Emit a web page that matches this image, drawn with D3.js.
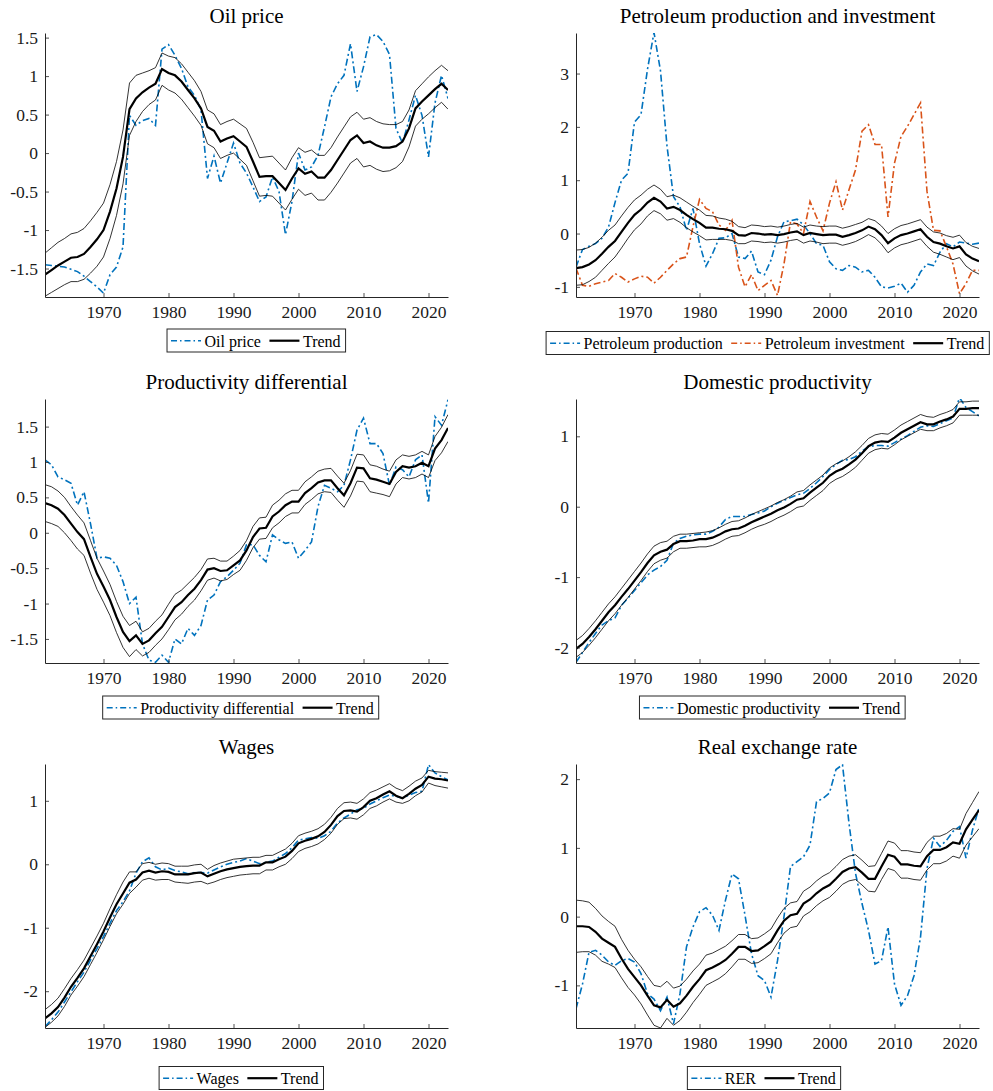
<!DOCTYPE html>
<html lang="en">
<head>
  <meta charset="UTF-8">
  <title>Trends</title>
  <style>
    body { margin: 0; background: #fff; }
    svg { display: block; font-family: "Liberation Serif", "Times New Roman", serif; }
  </style>
</head>
<body>
  <svg id="chart" width="993" height="1091"></svg>

  <script src="https://d3js.org/d3.v7.min.js"></script>
  <script>
    const years = d3.range(1961, 2024);
    const xTicks = [1970, 1980, 1990, 2000, 2010, 2020];

    // --- Oil price ---
    const oilPrice = [
      -1.45,-1.46,-1.47,-1.48,-1.51,-1.54,-1.60,-1.67,-1.74,-1.82,
      -1.58,-1.48,-1.22,0.49,0.36,0.42,0.45,0.36,1.35,1.41,
      1.27,1.10,0.86,0.75,0.56,-0.33,-0.04,-0.39,-0.13,0.13,
      -0.13,-0.26,-0.44,-0.63,-0.57,-0.31,-0.50,-1.06,-0.63,0.00,
      -0.22,-0.18,-0.03,0.34,0.73,0.90,1.01,1.42,0.80,1.12,
      1.51,1.54,1.45,1.28,0.32,0.13,0.43,0.75,0.49,-0.05,
      0.65,1.01,0.71];
    const oilTrend = [
      -1.58,-1.52,-1.46,-1.41,-1.36,-1.35,-1.31,-1.22,-1.12,-1.00,
      -0.76,-0.46,-0.05,0.57,0.71,0.79,0.85,0.90,1.09,1.04,
      1.01,0.93,0.82,0.71,0.58,0.34,0.29,0.15,0.19,0.22,
      0.15,0.08,-0.11,-0.31,-0.30,-0.30,-0.39,-0.48,-0.33,-0.20,
      -0.27,-0.24,-0.32,-0.32,-0.22,-0.09,0.04,0.17,0.23,0.13,
      0.15,0.10,0.07,0.07,0.09,0.15,0.32,0.58,0.67,0.75,
      0.83,0.90,0.82];
    const oilUpper = [
      -1.30,-1.23,-1.16,-1.11,-1.05,-1.03,-0.98,-0.88,-0.77,-0.65,
      -0.41,-0.11,0.30,0.91,1.01,1.04,1.07,1.11,1.30,1.26,
      1.24,1.16,1.05,0.94,0.80,0.56,0.51,0.37,0.41,0.44,
      0.38,0.32,0.14,-0.06,-0.05,-0.04,-0.13,-0.22,-0.06,0.07,
      0.01,0.04,-0.03,-0.03,0.07,0.21,0.34,0.47,0.53,0.44,
      0.46,0.41,0.38,0.37,0.37,0.41,0.56,0.81,0.90,0.99,
      1.07,1.14,1.07];
    const oilLower = [
      -1.86,-1.81,-1.76,-1.71,-1.67,-1.67,-1.64,-1.56,-1.47,-1.35,
      -1.11,-0.81,-0.40,0.23,0.41,0.54,0.63,0.69,0.88,0.82,
      0.78,0.70,0.59,0.48,0.36,0.12,0.07,-0.07,-0.03,0.00,
      -0.08,-0.16,-0.36,-0.56,-0.55,-0.56,-0.65,-0.74,-0.60,-0.47,
      -0.55,-0.52,-0.61,-0.61,-0.51,-0.39,-0.26,-0.13,-0.07,-0.18,
      -0.16,-0.21,-0.24,-0.23,-0.19,-0.11,0.08,0.35,0.44,0.51,
      0.59,0.66,0.57];
    const oilTicks = [-1.5, -1, -0.5, 0, 0.5, 1, 1.5];

    // --- Petroleum production and investment ---
    const petProd = [
      -0.63,-0.30,-0.24,-0.19,-0.09,0.12,0.58,1.00,1.13,2.09,
      2.23,3.08,3.77,3.05,1.64,0.69,0.50,0.06,0.47,-0.19,
      -0.61,-0.38,-0.09,-0.08,0.00,-0.44,-0.47,-0.33,-0.72,-0.77,
      -0.50,-0.06,0.22,0.24,0.27,0.16,0.00,-0.19,-0.22,-0.53,
      -0.66,-0.69,-0.60,-0.63,-0.72,-0.69,-0.82,-1.00,-1.02,-0.99,
      -0.93,-1.10,-0.97,-0.72,-0.57,-0.60,-0.35,-0.19,-0.25,-0.16,
      -0.18,-0.20,-0.18];
    const petInv = [
      -0.65,-0.97,-0.99,-0.94,-0.91,-0.88,-0.75,-0.82,-0.91,-0.85,
      -0.80,-0.82,-0.93,-0.82,-0.69,-0.57,-0.47,-0.44,0.13,0.64,
      0.47,0.41,0.16,0.06,0.25,-0.63,-1.00,-0.77,-1.07,-0.97,
      -0.88,-1.16,-0.57,0.22,0.18,0.00,0.60,0.31,0.05,0.57,
      0.97,0.44,0.82,1.19,1.92,2.04,1.67,1.67,0.31,1.32,
      1.82,2.01,2.23,2.45,0.79,0.06,0.05,-0.25,-0.57,-1.13,
      -0.94,-0.69,-0.69];
    const petTrend = [
      -0.65,-0.63,-0.58,-0.50,-0.38,-0.25,-0.14,0.03,0.20,0.35,
      0.45,0.58,0.67,0.60,0.47,0.50,0.44,0.35,0.27,0.20,
      0.11,0.11,0.09,0.08,0.05,-0.03,-0.04,0.01,0.00,-0.02,
      -0.01,-0.03,-0.01,0.02,0.04,-0.03,0.01,-0.01,-0.03,-0.02,
      -0.02,-0.06,-0.03,0.01,0.06,0.13,0.08,-0.03,-0.18,-0.09,
      -0.03,0.00,0.04,0.08,-0.06,-0.16,-0.19,-0.24,-0.28,-0.24,
      -0.39,-0.47,-0.52];
    const petUpper = [
      -0.31,-0.30,-0.26,-0.18,-0.07,0.06,0.16,0.33,0.49,0.63,
      0.72,0.83,0.91,0.83,0.69,0.72,0.67,0.59,0.51,0.44,
      0.34,0.33,0.29,0.27,0.23,0.13,0.11,0.16,0.15,0.13,
      0.14,0.12,0.14,0.17,0.19,0.12,0.16,0.14,0.13,0.14,
      0.14,0.10,0.13,0.17,0.21,0.28,0.24,0.14,0.00,0.09,
      0.15,0.18,0.22,0.26,0.12,0.03,0.01,-0.04,-0.07,-0.03,
      -0.17,-0.24,-0.28];
    const petLower = [
      -0.97,-0.96,-0.90,-0.82,-0.69,-0.56,-0.44,-0.27,-0.09,0.07,
      0.18,0.33,0.43,0.37,0.25,0.28,0.21,0.11,0.03,-0.04,
      -0.12,-0.11,-0.11,-0.11,-0.13,-0.19,-0.19,-0.14,-0.15,-0.17,
      -0.16,-0.18,-0.16,-0.13,-0.11,-0.18,-0.14,-0.16,-0.19,-0.18,
      -0.18,-0.22,-0.19,-0.15,-0.09,-0.02,-0.08,-0.20,-0.36,-0.27,
      -0.21,-0.18,-0.14,-0.10,-0.24,-0.35,-0.39,-0.44,-0.49,-0.45,
      -0.61,-0.70,-0.76];
    const petTicks = [-1, 0, 1, 2, 3];

    // --- Productivity differential ---
    const prodDiff = [
      1.03,0.96,0.79,0.75,0.70,0.39,0.58,0.13,-0.36,-0.34,
      -0.36,-0.46,-0.69,-1.00,-0.91,-1.57,-1.80,-1.83,-1.73,-1.83,
      -1.50,-1.57,-1.35,-1.45,-1.31,-0.95,-0.88,-0.69,-0.62,-0.53,
      -0.43,-0.17,-0.17,-0.32,-0.41,-0.03,-0.10,-0.15,-0.13,-0.36,
      -0.25,-0.13,0.37,0.67,0.63,0.58,0.67,1.03,1.45,1.62,
      1.26,1.26,1.12,0.67,0.93,0.89,0.79,1.03,1.10,0.42,
      1.64,1.52,1.88];
    const diffTrend = [
      0.42,0.39,0.34,0.25,0.13,0.01,-0.09,-0.34,-0.58,-0.76,
      -0.95,-1.19,-1.40,-1.53,-1.45,-1.57,-1.52,-1.42,-1.33,-1.19,
      -1.05,-0.98,-0.88,-0.79,-0.67,-0.52,-0.50,-0.54,-0.53,-0.46,
      -0.39,-0.25,-0.06,0.06,0.07,0.23,0.30,0.39,0.44,0.44,
      0.56,0.63,0.71,0.74,0.74,0.63,0.53,0.70,0.92,0.91,
      0.77,0.75,0.72,0.69,0.86,0.94,0.92,0.94,0.99,0.94,
      1.19,1.31,1.48];
    const diffUpper = [
      0.68,0.65,0.59,0.50,0.37,0.25,0.14,-0.11,-0.36,-0.54,
      -0.73,-0.97,-1.18,-1.31,-1.25,-1.40,-1.35,-1.25,-1.16,-1.01,
      -0.87,-0.81,-0.72,-0.63,-0.52,-0.37,-0.36,-0.40,-0.40,-0.33,
      -0.25,-0.11,0.09,0.21,0.22,0.39,0.46,0.55,0.60,0.60,
      0.72,0.79,0.87,0.90,0.91,0.80,0.70,0.88,1.11,1.10,
      0.96,0.94,0.90,0.87,1.03,1.10,1.08,1.10,1.15,1.10,
      1.36,1.49,1.67];
    const diffLower = [
      0.16,0.13,0.09,0.00,-0.11,-0.23,-0.32,-0.57,-0.80,-0.98,
      -1.17,-1.41,-1.62,-1.75,-1.65,-1.74,-1.69,-1.59,-1.50,-1.37,
      -1.23,-1.15,-1.04,-0.95,-0.82,-0.67,-0.64,-0.68,-0.66,-0.59,
      -0.53,-0.39,-0.21,-0.09,-0.08,0.07,0.14,0.23,0.28,0.28,
      0.40,0.47,0.55,0.58,0.57,0.46,0.36,0.52,0.73,0.72,
      0.58,0.56,0.54,0.51,0.69,0.78,0.76,0.78,0.83,0.78,
      1.02,1.13,1.29];
    const diffTicks = [-1.5, -1, -0.5, 0, 0.5, 1, 1.5];

    // --- Domestic productivity ---
    const domProd = [
      -2.21,-2.07,-1.93,-1.80,-1.68,-1.62,-1.58,-1.40,-1.30,-1.19,
      -1.08,-0.97,-0.90,-0.85,-0.76,-0.52,-0.45,-0.42,-0.40,-0.39,
      -0.39,-0.35,-0.29,-0.18,-0.14,-0.14,-0.14,-0.11,-0.09,-0.06,
      0.00,0.05,0.09,0.13,0.17,0.19,0.26,0.34,0.43,0.53,
      0.60,0.66,0.67,0.71,0.79,0.85,0.87,0.87,0.86,0.91,
      0.96,1.01,1.07,1.13,1.15,1.14,1.18,1.22,1.26,1.55,
      1.41,1.35,1.29];
    const domTrend = [
      -2.02,-1.95,-1.85,-1.74,-1.62,-1.50,-1.40,-1.28,-1.17,-1.05,
      -0.93,-0.80,-0.69,-0.64,-0.61,-0.53,-0.49,-0.49,-0.48,-0.46,
      -0.46,-0.44,-0.40,-0.35,-0.32,-0.31,-0.27,-0.22,-0.18,-0.14,
      -0.10,-0.05,-0.01,0.04,0.10,0.12,0.20,0.27,0.34,0.44,
      0.50,0.54,0.60,0.67,0.76,0.86,0.91,0.93,0.92,0.98,
      1.05,1.10,1.15,1.20,1.17,1.17,1.21,1.24,1.28,1.39,
      1.39,1.40,1.40];
    const domUpper = [
      -1.90,-1.83,-1.73,-1.62,-1.50,-1.38,-1.28,-1.16,-1.04,-0.92,
      -0.80,-0.67,-0.56,-0.51,-0.49,-0.42,-0.39,-0.39,-0.38,-0.37,
      -0.36,-0.34,-0.30,-0.25,-0.21,-0.20,-0.16,-0.11,-0.07,-0.03,
      0.01,0.06,0.10,0.15,0.21,0.23,0.31,0.38,0.45,0.55,
      0.61,0.65,0.71,0.78,0.87,0.97,1.02,1.04,1.03,1.09,
      1.16,1.21,1.26,1.31,1.28,1.27,1.31,1.34,1.38,1.49,
      1.49,1.50,1.50];
    const domLower = [
      -2.14,-2.07,-1.97,-1.86,-1.74,-1.62,-1.52,-1.40,-1.29,-1.17,
      -1.05,-0.92,-0.81,-0.76,-0.73,-0.64,-0.59,-0.59,-0.58,-0.57,
      -0.57,-0.55,-0.51,-0.46,-0.42,-0.41,-0.37,-0.32,-0.28,-0.25,
      -0.21,-0.16,-0.12,-0.07,-0.01,0.01,0.09,0.16,0.23,0.33,
      0.39,0.43,0.49,0.56,0.66,0.76,0.81,0.83,0.82,0.88,
      0.95,1.00,1.05,1.10,1.08,1.08,1.12,1.15,1.19,1.30,
      1.30,1.30,1.30];
    const domTicks = [-2, -1, 0, 1];

    // --- Wages ---
    const wages = [
      -2.56,-2.45,-2.33,-2.17,-2.01,-1.85,-1.70,-1.51,-1.33,-1.14,
      -0.93,-0.73,-0.59,-0.42,-0.14,0.04,0.10,-0.04,-0.09,-0.06,
      -0.10,-0.12,-0.15,-0.13,-0.13,-0.14,-0.09,-0.04,0.00,0.03,
      0.05,0.09,0.05,0.01,0.03,0.05,0.11,0.17,0.26,0.38,
      0.40,0.42,0.41,0.45,0.52,0.65,0.73,0.79,0.86,0.88,
      0.95,1.00,1.05,1.09,1.07,1.04,1.09,1.13,1.15,1.57,
      1.44,1.38,1.33];
    const wageTrend = [
      -2.43,-2.35,-2.25,-2.10,-1.93,-1.79,-1.64,-1.45,-1.26,-1.06,
      -0.84,-0.63,-0.46,-0.29,-0.24,-0.13,-0.10,-0.13,-0.11,-0.12,
      -0.16,-0.16,-0.16,-0.14,-0.13,-0.19,-0.15,-0.11,-0.08,-0.06,
      -0.04,-0.03,-0.02,-0.02,0.03,0.03,0.08,0.12,0.21,0.33,
      0.37,0.40,0.44,0.51,0.62,0.76,0.84,0.85,0.83,0.90,
      1.00,1.04,1.10,1.15,1.08,1.04,1.11,1.19,1.25,1.38,
      1.35,1.34,1.32];
    const wageUpper = [
      -2.29,-2.21,-2.11,-1.96,-1.80,-1.66,-1.51,-1.32,-1.13,-0.93,
      -0.70,-0.48,-0.28,-0.12,-0.12,0.01,0.03,0.00,0.02,0.01,
      -0.03,-0.03,-0.03,-0.01,0.00,-0.08,-0.02,0.02,0.05,0.08,
      0.09,0.10,0.11,0.11,0.14,0.14,0.19,0.24,0.33,0.45,
      0.49,0.52,0.56,0.63,0.74,0.88,0.97,0.98,0.96,1.03,
      1.13,1.17,1.22,1.27,1.20,1.16,1.23,1.31,1.36,1.48,
      1.46,1.45,1.44];
    const wageLower = [
      -2.57,-2.49,-2.39,-2.24,-2.06,-1.92,-1.77,-1.58,-1.39,-1.19,
      -0.98,-0.78,-0.63,-0.46,-0.36,-0.25,-0.22,-0.25,-0.24,-0.24,
      -0.28,-0.29,-0.30,-0.28,-0.27,-0.31,-0.28,-0.24,-0.21,-0.19,
      -0.17,-0.16,-0.15,-0.15,-0.09,-0.09,-0.04,0.00,0.09,0.20,
      0.25,0.28,0.32,0.39,0.49,0.63,0.72,0.73,0.71,0.78,
      0.88,0.92,0.98,1.03,0.98,0.96,1.00,1.08,1.14,1.28,
      1.24,1.22,1.20];
    const wageTicks = [-2, -1, 0, 1];

    // --- Real exchange rate ---
    const rer = [
      -1.34,-0.98,-0.52,-0.49,-0.56,-0.66,-0.71,-0.64,-0.61,-0.66,
      -0.83,-1.12,-1.20,-1.37,-1.17,-1.56,-1.12,-0.44,-0.15,0.07,
      0.13,0.02,-0.20,0.24,0.62,0.55,0.02,-0.54,-0.86,-0.93,
      -1.17,-0.64,0.00,0.73,0.80,0.87,1.04,1.67,1.72,1.80,
      2.14,2.21,1.36,0.63,0.19,-0.20,-0.69,-0.64,-0.15,-0.98,
      -1.29,-1.15,-0.86,-0.30,0.70,1.14,1.02,1.11,1.24,1.31,
      0.85,1.26,1.58];
    const rerTrend = [
      -0.14,-0.14,-0.15,-0.22,-0.32,-0.38,-0.44,-0.61,-0.76,-0.88,
      -1.00,-1.15,-1.29,-1.32,-1.21,-1.31,-1.26,-1.15,-1.02,-0.91,
      -0.78,-0.74,-0.69,-0.63,-0.54,-0.44,-0.44,-0.50,-0.49,-0.43,
      -0.36,-0.20,-0.06,0.02,0.04,0.19,0.25,0.34,0.41,0.46,
      0.55,0.65,0.70,0.72,0.64,0.55,0.55,0.73,0.90,0.87,
      0.76,0.76,0.74,0.73,0.88,0.97,0.97,1.01,1.08,1.06,
      1.27,1.41,1.55];
    const rerUpper = [
      0.24,0.23,0.21,0.12,0.01,-0.07,-0.14,-0.33,-0.49,-0.62,
      -0.73,-0.87,-1.00,-1.02,-0.94,-1.04,-1.01,-0.91,-0.79,-0.69,
      -0.56,-0.53,-0.48,-0.43,-0.35,-0.26,-0.26,-0.32,-0.31,-0.25,
      -0.18,-0.02,0.12,0.20,0.22,0.37,0.43,0.52,0.59,0.64,
      0.73,0.83,0.88,0.90,0.82,0.73,0.74,0.92,1.10,1.07,
      0.96,0.96,0.94,0.93,1.08,1.17,1.17,1.21,1.28,1.27,
      1.50,1.66,1.82];
    const rerLower = [
      -0.52,-0.51,-0.51,-0.56,-0.65,-0.69,-0.74,-0.89,-1.03,-1.14,
      -1.27,-1.43,-1.58,-1.62,-1.48,-1.58,-1.51,-1.39,-1.25,-1.13,
      -1.00,-0.95,-0.90,-0.83,-0.73,-0.62,-0.62,-0.68,-0.67,-0.61,
      -0.54,-0.38,-0.24,-0.16,-0.14,0.01,0.07,0.16,0.23,0.28,
      0.37,0.47,0.52,0.54,0.46,0.37,0.36,0.54,0.70,0.67,
      0.56,0.56,0.54,0.53,0.68,0.77,0.77,0.81,0.88,0.85,
      1.04,1.16,1.28];
    const rerTicks = [-1, 0, 1, 2];

    const BLUE = '#0072BD';
    const ORANGE = '#D95319';
    const AXIS = '#262626';
    const DASHDOT = '7,3,2,3';
    const PW = 403, PH = 264; // plot area size

    const panels = [
      { title: 'Oil price', left: 45, top: 33, yDomain: [-1.87, 1.56], yTicks: oilTicks,
        series: [{ name: 'Oil price', values: oilPrice, color: BLUE }],
        trend: oilTrend, bands: [oilUpper, oilLower], legend: { cx: 256.3, y: 329 } },
      { title: 'Petroleum production and investment', left: 576, top: 33, yDomain: [-1.19, 3.76], yTicks: petTicks,
        series: [{ name: 'Petroleum production', values: petProd, color: BLUE },
                 { name: 'Petroleum investment', values: petInv, color: ORANGE }],
        trend: petTrend, bands: [petUpper, petLower], legend: { cx: 767.7, y: 331.5 } },
      { title: 'Productivity differential', left: 45, top: 399, yDomain: [-1.84, 1.89], yTicks: diffTicks,
        series: [{ name: 'Productivity differential', values: prodDiff, color: BLUE }],
        trend: diffTrend, bands: [diffUpper, diffLower], legend: { cx: 240.7, y: 696 } },
      { title: 'Domestic productivity', left: 576, top: 399, yDomain: [-2.22, 1.53], yTicks: domTicks,
        series: [{ name: 'Domestic productivity', values: domProd, color: BLUE }],
        trend: domTrend, bands: [domUpper, domLower], legend: { cx: 772.3, y: 696 } },
      { title: 'Wages', left: 45, top: 764, yDomain: [-2.58, 1.58], yTicks: wageTicks,
        series: [{ name: 'Wages', values: wages, color: BLUE }],
        trend: wageTrend, bands: [wageUpper, wageLower], legend: { cx: 241.3, y: 1066.5 } },
      { title: 'Real exchange rate', left: 576, top: 764, yDomain: [-1.62, 2.22], yTicks: rerTicks,
        series: [{ name: 'RER', values: rer, color: BLUE }],
        trend: rerTrend, bands: [rerUpper, rerLower], legend: { cx: 764, y: 1066.5 } }
    ];

    const svg = d3.select('#chart');
    const defs = svg.append('defs');

    panels.forEach((p, k) => {
      const x = d3.scaleLinear().domain([1961, 2023]).range([p.left, p.left + PW]);
      const y = d3.scaleLinear().domain(p.yDomain).range([p.top + PH, p.top]);
      const line = d3.line().x((d, i) => x(years[i])).y(d => y(d));

      defs.append('clipPath').attr('id', 'clip' + k)
        .append('rect')
        .attr('x', p.left).attr('y', p.top)
        .attr('width', PW).attr('height', PH);

      const panel = svg.append('g').attr('class', 'panel');
      const plot = panel.append('g').attr('clip-path', `url(#clip${k})`);

      // data series (dash-dot)
      p.series.forEach(s => {
        plot.append('path')
          .attr('d', line(s.values))
          .attr('fill', 'none')
          .attr('stroke', s.color)
          .attr('stroke-width', 1.6)
          .attr('stroke-dasharray', DASHDOT);
      });
      // confidence bands
      p.bands.forEach(b => {
        plot.append('path')
          .attr('d', line(b))
          .attr('fill', 'none')
          .attr('stroke', '#000')
          .attr('stroke-width', 0.8);
      });
      // trend
      plot.append('path')
        .attr('d', line(p.trend))
        .attr('fill', 'none')
        .attr('stroke', '#000')
        .attr('stroke-width', 2.2);

      // axes, ticks point inward like matlab
      const xAxis = d3.axisBottom(x).tickValues(xTicks).tickFormat(d3.format('d'))
        .tickSizeInner(-4).tickSizeOuter(0).tickPadding(9);
      const yAxis = d3.axisLeft(y).tickValues(p.yTicks).tickFormat(d => String(d))
        .tickSizeInner(-4).tickSizeOuter(0).tickPadding(7);

      panel.append('g')
        .attr('transform', `translate(0,${p.top + PH})`)
        .call(xAxis)
        .call(styleAxis);
      panel.append('g')
        .attr('transform', `translate(${p.left},0)`)
        .call(yAxis)
        .call(styleAxis);

      // title
      panel.append('text')
        .attr('x', p.left + PW / 2)
        .attr('y', p.top - 10)
        .attr('text-anchor', 'middle')
        .attr('font-size', 21)
        .attr('fill', '#000')
        .text(p.title);

      drawLegend(panel, p);
    });

    function styleAxis(g) {
      g.attr('font-family', '"Liberation Serif", "Times New Roman", serif')
        .attr('font-size', 17.5).attr('color', AXIS);
      g.select('.domain').attr('stroke-width', 1);
      g.selectAll('.tick line').attr('stroke-width', 0.8);
      g.selectAll('.tick text').attr('fill', '#1a1a1a');
    }

    function drawLegend(parent, p) {
      const items = p.series.map(s => ({ name: s.name, color: s.color, dash: '6,3,1.5,3', w: 1.6 }))
        .concat([{ name: 'Trend', color: '#000', dash: null, w: 2.2 }]);
      const lg = parent.append('g');
      const box = lg.append('rect')
        .attr('fill', '#fff')
        .attr('stroke', AXIS)
        .attr('stroke-width', 1);
      let cx = 4;
      items.forEach((it, i) => {
        lg.append('line')
          .attr('x1', cx).attr('x2', cx + 30)
          .attr('y1', 11.7).attr('y2', 11.7)
          .attr('stroke', it.color)
          .attr('stroke-width', it.w)
          .attr('stroke-dasharray', it.dash);
        cx += 33.5;
        const t = lg.append('text')
          .attr('x', cx).attr('y', 17.5)
          .attr('font-size', 16)
          .attr('fill', '#000')
          .text(it.name);
        cx += t.node().getComputedTextLength() + (i < items.length - 1 ? 8.5 : 5);
      });
      box.attr('x', 0).attr('y', 0).attr('width', cx).attr('height', 23);
      lg.attr('transform', `translate(${p.legend.cx - cx / 2},${p.legend.y})`);
    }
  </script>
</body>
</html>
